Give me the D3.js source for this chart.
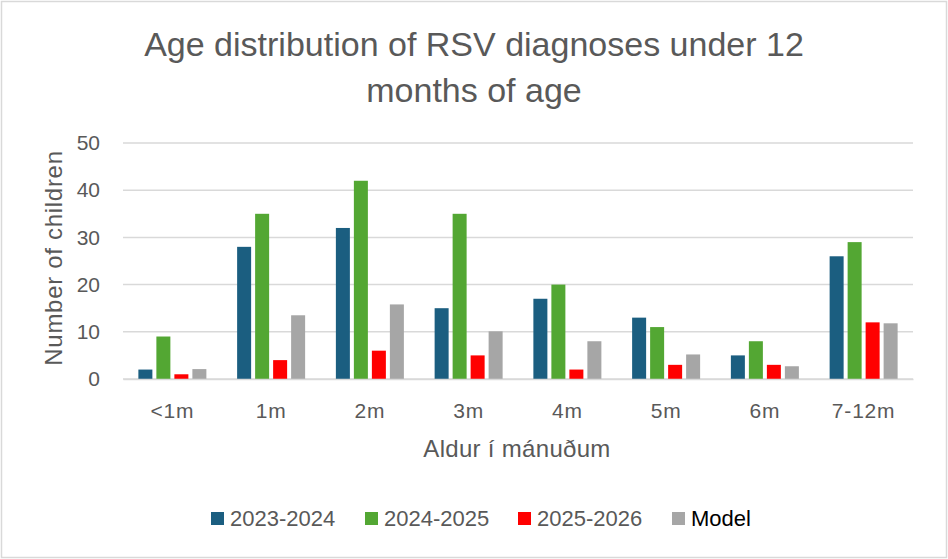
<!DOCTYPE html>
<html>
<head>
<meta charset="utf-8">
<script src="https://cdn.jsdelivr.net/npm/d3@7"></script>
<style>
  body { margin: 0; background: #fff; }
</style>
</head>
<body>
<div class="chart"></div>
<script>
// Chart data
var categories = ["<1m", "1m", "2m", "3m", "4m", "5m", "6m", "7-12m"];
var seriesNames = ["2023-2024", "2024-2025", "2025-2026", "Model"];
var season2324 = [2, 28, 32, 15, 17, 13, 5, 26];
var season2425 = [9, 35, 42, 35, 20, 11, 8, 29];
var season2526 = [1, 4, 6, 5, 2, 3, 3, 12];
var model = [2.1, 13.5, 15.8, 10.1, 8, 5.2, 2.7, 11.8];
var yTicks = [0, 10, 20, 30, 40, 50];

var seriesValues = [season2324, season2425, season2526, model];
var colors = ["#1b5e80", "#53a733", "#ff0000", "#a6a6a6"];

// SVG size
var svgWidth = 948;
var svgHeight = 559;

var margin = { top: 143, right: 35, bottom: 180, left: 123 };
var chartWidth = svgWidth - margin.left - margin.right;
var chartHeight = svgHeight - margin.top - margin.bottom;

var svg = d3.select(".chart")
  .append("svg")
  .attr("width", svgWidth)
  .attr("height", svgHeight);

// outer border
svg.append("rect")
  .attr("x", 1.5)
  .attr("y", 1.5)
  .attr("width", svgWidth - 3)
  .attr("height", svgHeight - 3)
  .attr("fill", "#fff")
  .attr("stroke", "#d9d9d9")
  .attr("stroke-width", 1.5);

// title
var title = svg.append("text")
  .attr("text-anchor", "middle")
  .attr("font-family", "'Liberation Sans', Arial, sans-serif")
  .attr("font-size", 34)
  .attr("fill", "#595959");
title.append("tspan").attr("x", 474).attr("y", 56).text("Age distribution of RSV diagnoses under 12");
title.append("tspan").attr("x", 474).attr("y", 102).text("months of age");

var chartGroup = svg.append("g")
  .attr("transform", "translate(" + margin.left + "," + margin.top + ")");

// scales
var x0 = d3.scaleBand()
  .domain(categories)
  .range([0, chartWidth])
  .padding(0);

var groupWidth = 68;
var x1 = d3.scaleBand()
  .domain(seriesNames)
  .range([(x0.bandwidth() - groupWidth) / 2, (x0.bandwidth() + groupWidth) / 2])
  .paddingInner(4 / 18)
  .paddingOuter(0);

var yScale = d3.scaleLinear()
  .domain([0, 50])
  .range([chartHeight, 0]);

// gridlines
chartGroup.append("g")
  .selectAll("line")
  .data(yTicks)
  .enter()
  .append("line")
  .attr("x1", 0)
  .attr("x2", chartWidth)
  .attr("y1", d => yScale(d))
  .attr("y2", d => yScale(d))
  .attr("stroke", "#d9d9d9")
  .attr("stroke-width", 1.5);

// y axis labels
var yAxis = d3.axisLeft(yScale).tickValues(yTicks).tickSize(0).tickPadding(23);
var yAxisGroup = chartGroup.append("g")
  .call(yAxis);
yAxisGroup.select(".domain").remove();
yAxisGroup.selectAll("text")
  .attr("font-family", "'Liberation Sans', Arial, sans-serif")
  .attr("font-size", 21)
  .attr("fill", "#595959");

// bars
var groups = chartGroup.selectAll(".group")
  .data(categories)
  .enter()
  .append("g")
  .attr("class", "group")
  .attr("transform", d => "translate(" + x0(d) + ",0)");

groups.selectAll("rect")
  .data((d, i) => seriesNames.map((s, j) => ({ series: s, value: seriesValues[j][i], color: colors[j] })))
  .enter()
  .append("rect")
  .attr("x", d => x1(d.series))
  .attr("y", d => yScale(d.value))
  .attr("width", x1.bandwidth())
  .attr("height", d => chartHeight - yScale(d.value))
  .attr("fill", d => d.color);

// x axis
var xAxis = d3.axisBottom(x0).tickSize(0).tickPadding(24);
var xAxisGroup = chartGroup.append("g")
  .attr("transform", "translate(0," + chartHeight + ")")
  .call(xAxis);
xAxisGroup.select(".domain")
  .attr("stroke", "#d9d9d9")
  .attr("stroke-width", 1.5);
xAxisGroup.selectAll("text")
  .attr("font-family", "'Liberation Sans', Arial, sans-serif")
  .attr("font-size", 21)
  .attr("letter-spacing", 0.8)
  .attr("fill", "#595959");

// axis titles
svg.append("text")
  .attr("x", 517)
  .attr("y", 457)
  .attr("text-anchor", "middle")
  .attr("font-family", "'Liberation Sans', Arial, sans-serif")
  .attr("font-size", 24)
  .attr("letter-spacing", 0.3)
  .attr("fill", "#595959")
  .text("Aldur í mánuðum");

svg.append("text")
  .attr("transform", "translate(62,258) rotate(-90)")
  .attr("text-anchor", "middle")
  .attr("font-family", "'Liberation Sans', Arial, sans-serif")
  .attr("font-size", 24)
  .attr("letter-spacing", 0.7)
  .attr("fill", "#595959")
  .text("Number of children");

// legend
var legendX = [211, 365, 518, 672];
var legend = svg.selectAll(".legend")
  .data(seriesNames)
  .enter()
  .append("g")
  .attr("class", "legend")
  .attr("transform", (d, i) => "translate(" + legendX[i] + ",512)");

legend.append("rect")
  .attr("width", 13)
  .attr("height", 13)
  .attr("fill", (d, i) => colors[i]);

legend.append("text")
  .attr("x", 19)
  .attr("y", 14)
  .attr("font-family", "'Liberation Sans', Arial, sans-serif")
  .attr("font-size", 22)
  .attr("fill", (d, i) => i === 3 ? "#000" : "#595959")
  .text(d => d);
</script>
</body>
</html>
